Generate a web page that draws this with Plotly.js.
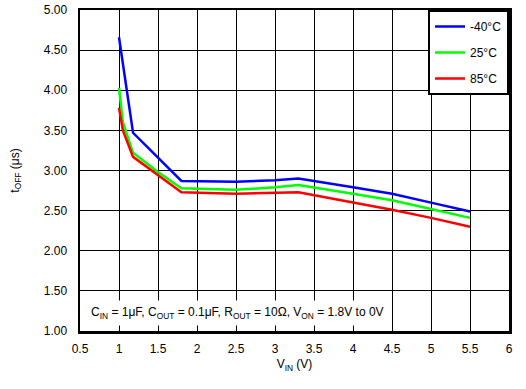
<!DOCTYPE html>
<html><head><meta charset="utf-8">
<script src="https://cdn.plot.ly/plotly-3.0.1.min.js"></script>
<style>body{margin:0;padding:0;background:#fff}#c{width:526px;height:389px}</style>
</head><body><div id="c"></div>
<script>
const vinBlue = [1.0, 1.18, 1.8, 2.5, 3.0, 3.3, 4.0, 4.5, 5.0, 5.5];
const tBlue   = [4.66, 3.47, 2.87, 2.86, 2.88, 2.90, 2.79, 2.71, 2.60, 2.49];
const vinGreen = [1.0, 1.05, 1.18, 1.5, 1.8, 2.5, 3.0, 3.3, 4.0, 4.5, 5.0, 5.5];
const tGreen   = [4.03, 3.60, 3.22, 2.98, 2.78, 2.76, 2.79, 2.82, 2.71, 2.63, 2.52, 2.41];
const vinRed = [1.0, 1.05, 1.18, 1.5, 1.8, 2.5, 3.0, 3.3, 4.0, 4.5, 5.0, 5.5];
const tRed   = [3.78, 3.50, 3.17, 2.94, 2.73, 2.71, 2.72, 2.73, 2.60, 2.51, 2.41, 2.30];
const seriesNames = ['-40°C', '25°C', '85°C'];
const noteText = 'C<sub>IN</sub> = 1μF, C<sub>OUT</sub> = 0.1μF, R<sub>OUT</sub> = 10Ω, V<sub>ON</sub> = 1.8V to 0V';

const font = {family: 'Liberation Sans, Arial, sans-serif', size: 12, color: '#000'};
const traces = [
  {x: vinBlue, y: tBlue, name: seriesNames[0], color: '#0000ff'},
  {x: vinGreen, y: tGreen, name: seriesNames[1], color: '#00ff00'},
  {x: vinRed, y: tRed, name: seriesNames[2], color: '#ff0000'}
].map((s, i) => ({
  x: s.x, y: s.y, name: s.name, type: 'scatter', mode: 'lines',
  line: {color: s.color, width: 2.5}, legendgroup: 'g' + i
}));

const layout = {
  width: 526, height: 389,
  margin: {l: 80, r: 17, t: 10, b: 58},
  paper_bgcolor: '#fff', plot_bgcolor: '#fff',
  font: font,
  showlegend: true,
  legend: {x: 1, y: 1, xanchor: 'right', yanchor: 'top', bgcolor: '#fff',
           bordercolor: '#000', borderwidth: 2, font: font,
           traceorder: 'grouped', tracegroupgap: 7, itemwidth: 30},
  xaxis: {range: [0.5, 6], dtick: 0.5, tick0: 0.5, showgrid: true, gridcolor: '#000', gridwidth: 1,
          showline: true, linecolor: '#000', linewidth: 2.5, mirror: true, zeroline: false,
          ticks: '', tickfont: font, ticklabelstandoff: 5,
          title: {text: 'V<sub>IN</sub> (V)', font: font, standoff: 5}},
  yaxis: {range: [1, 5], dtick: 0.5, tick0: 1, tickformat: '.2f', showgrid: true, gridcolor: '#000', gridwidth: 1,
          showline: true, linecolor: '#000', linewidth: 2.5, mirror: true, zeroline: false,
          ticks: '', tickfont: font, ticklabelstandoff: 8,
          title: {text: 't<sub>OFF</sub> (μs)', font: font, standoff: 22}},
  annotations: [{
    text: noteText, xref: 'paper', yref: 'paper', x: 0.015, y: 0.015,
    xanchor: 'left', yanchor: 'bottom', showarrow: false, bgcolor: '#fff',
    font: font, borderpad: 4
  }]
};
Plotly.newPlot('c', traces, layout, {displayModeBar: false, staticPlot: true});
</script></body></html>
